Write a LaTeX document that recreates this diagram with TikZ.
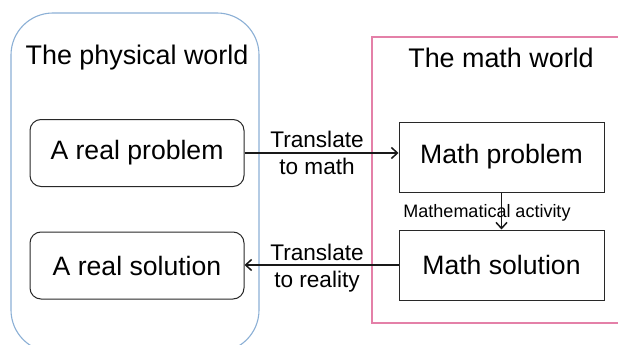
\documentclass[tikz,border=0pt]{standalone}
\usepackage{fontspec}
\setmainfont{Liberation Sans}
\usetikzlibrary{arrows.meta}
\definecolor{physblue}{RGB}{140,176,214}
\definecolor{mathpink}{RGB}{228,128,168}
\definecolor{boxgray}{RGB}{40,40,40}
\tikzset{
  world/.style={line width=1.1pt},
  realbox/.style={draw=boxgray, line width=1pt, rounded corners=11pt, minimum width=214pt, minimum height=67pt, font=\fontsize{26.6}{30}\selectfont, inner sep=0pt},
  mathbox/.style={draw=boxgray, line width=1pt, minimum width=205pt, minimum height=70pt, font=\fontsize{26.6}{30}\selectfont, inner sep=0pt},
  title/.style={font=\fontsize{26.9}{30}\selectfont, inner sep=0pt},
  lbl/.style={font=\fontsize{22.6}{27}\selectfont, align=center, inner sep=0pt},
  small/.style={font=\fontsize{18}{21}\selectfont, inner sep=0pt},
  conn/.style={line width=1.8pt, draw=black!90, -{Straight Barb[length=6pt,width=11pt,line width=1.5pt]}}
}
\begin{document}
\begin{tikzpicture}[x=1pt,y=-1pt]
\useasboundingbox (0,0) rectangle (618,345);
\begin{scope}
\clip (0,0) rectangle (618,345);
\fill[white] (0,0) rectangle (618,345);
\draw[world, draw=physblue, rounded corners=42pt] (11,13) rectangle (259,352);
\draw[world, draw=mathpink] (372,37) rectangle (640,323);
\end{scope}
\node[title] (pwt) at (137,58) {The physical world};
\node[title] (mwt) at (501,58) {The math world};
\node[realbox] (rp) at (137,153) {A real problem};
\node[realbox] (rs) at (137,265.5) {A real solution};
\node[mathbox] (mp) at (501.5,157) {Math problem};
\node[mathbox] (ms) at (501.5,265) {Math solution};
\draw[conn] (rp.east) -- (rp.east -| mp.west);
\draw[conn] (ms.west) -- (ms.west -| rs.east);
\draw[conn] (mp.south) -- (ms.north);
\node[lbl] (t1) at (317,153) {Translate\\to math};
\node[lbl] (t2) at (317,268) {Translate\\to reality};
\node[small] (ma) at (487,213) {Mathematical activity};
\end{tikzpicture}
\end{document}
